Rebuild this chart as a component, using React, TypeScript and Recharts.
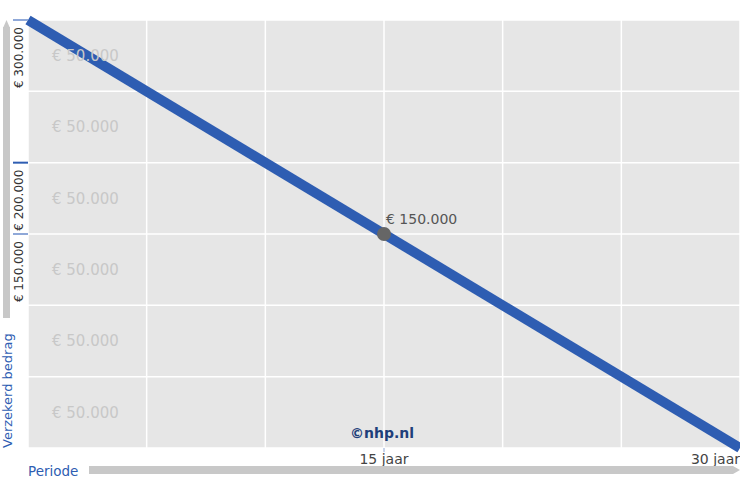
import React from 'react';
import {
  LineChart,
  Line,
  XAxis,
  YAxis,
  CartesianGrid,
  ReferenceArea
} from 'recharts';

// jaren vanaf start en het verzekerde bedrag (lineair dalend)
const years = [0, 15, 30];
const insured = [300000, 150000, 0];
const xTicks = [0, 5, 10, 15, 20, 25, 30];
const xTickLabels: Record<number, string> = { 15: '15 jaar', 30: '30 jaar' };
const yTicks = [0, 50000, 100000, 150000, 200000, 250000, 300000];
const yLabeled = [300000, 200000, 150000];
const yTickColors: Record<number, string> = { 300000: '#8fa8d8', 200000: '#2e5db2', 150000: '#8fa8d8' };
const bands = [0, 50000, 100000, 150000, 200000, 250000];
const bandText = '€ 50.000';
const highlightIndex = 1;

const data = years.map((year, i) => ({ year, value: insured[i] }));

const FONT = '"DejaVu Sans", sans-serif';
const BLUE = '#2e5db2';

const euro = (v: number) => '€ ' + String(v).replace(/\B(?=(\d{3})+(?!\d))/g, '.');

const YTick = (props: any) => {
  const { y, payload } = props;
  const v = payload.value;
  if (!yLabeled.includes(v)) return <g />;
  return (
    <g>
      <line x1={13} x2={28} y1={y} y2={y} stroke={yTickColors[v]} strokeWidth={2} />
      <text
        x={0}
        y={0}
        transform={`translate(23, ${y + 7}) rotate(-90)`}
        textAnchor="end"
        fontSize={12}
        fill="#333"
        fontFamily={FONT}
      >
        {euro(v)}
      </text>
    </g>
  );
};

const XTick = (props: any) => {
  const { x, y, payload } = props;
  const label = xTickLabels[payload.value];
  if (!label) return <g />;
  const last = payload.value === 30;
  return (
    <g>
      {!last && <line x1={x} x2={x} y1={448} y2={452} stroke="#8fa8d8" strokeWidth={1} />}
      <text
        x={x}
        y={464}
        textAnchor={last ? 'end' : 'middle'}
        fontSize={14}
        fill="#444"
        fontFamily={FONT}
      >
        {label}
      </text>
    </g>
  );
};

const renderDot = (props: any) => {
  const { cx, cy, index, payload } = props;
  if (index !== highlightIndex) return <g key={`d${index}`} />;
  return (
    <g key={`d${index}`}>
      <circle cx={cx} cy={cy} r={7} fill="#666" />
      <text x={cx + 2} y={cy - 10} fontSize={14} fill="#555" fontFamily={FONT}>
        {euro(payload.value)}
      </text>
    </g>
  );
};

export default function App() {
  return (
    <div style={{ position: 'absolute', left: 0, top: 0, width: 740, height: 478, background: '#fff' }}>
      <LineChart
        width={740}
        height={478}
        data={data}
        margin={{ top: 20, right: 0, left: 0, bottom: 0 }}
      >
        <CartesianGrid stroke="#fff" strokeWidth={1.5} fill="#e6e6e6" />
        <XAxis
          dataKey="year"
          type="number"
          domain={[0, 30]}
          ticks={xTicks}
          axisLine={false}
          tickLine={false}
          height={30}
          tick={<XTick />}
          interval={0}
        />
        <YAxis
          type="number"
          domain={[0, 300000]}
          ticks={yTicks}
          axisLine={false}
          tickLine={false}
          width={28}
          tick={<YTick />}
          interval={0}
        />
        {bands.map((b) => (
          <ReferenceArea
            key={b}
            y1={b}
            y2={b + 50000}
            fill="none"
            stroke="none"
            label={{ value: bandText, position: 'insideLeft', offset: 24, fill: '#c8c8c8', fontSize: 15, fontFamily: FONT }}
          />
        ))}
        <Line
          type="linear"
          dataKey="value"
          stroke={BLUE}
          strokeWidth={10}
          dot={renderDot}
          activeDot={false}
          isAnimationActive={false}
        />
      </LineChart>
      <svg
        width={740}
        height={478}
        style={{ position: 'absolute', left: 0, top: 0, pointerEvents: 'none' }}
      >
        {/* pijl verticaal */}
        <rect x={3} y={27} width={7} height={291} fill="#c8c8c8" />
        <polygon points="3,28 10,28 6.5,20" fill="#c8c8c8" />
        <text
          transform="translate(12, 448) rotate(-90)"
          fontSize={13}
          fill={BLUE}
          fontFamily={FONT}
        >
          Verzekerd bedrag
        </text>
        {/* pijl horizontaal */}
        <rect x={89} y={466} width={644} height={8} fill="#c8c8c8" />
        <polygon points="733,466 733,474 740,470" fill="#c8c8c8" />
        <text x={28} y={476} fontSize={13.5} fill={BLUE} fontFamily={FONT}>
          Periode
        </text>
        <text x={382} y={438} textAnchor="middle" fontSize={14} fontWeight="bold" fill="#1f3f7a" fontFamily={FONT}>
          ©nhp.nl
        </text>
      </svg>
    </div>
  );
}
